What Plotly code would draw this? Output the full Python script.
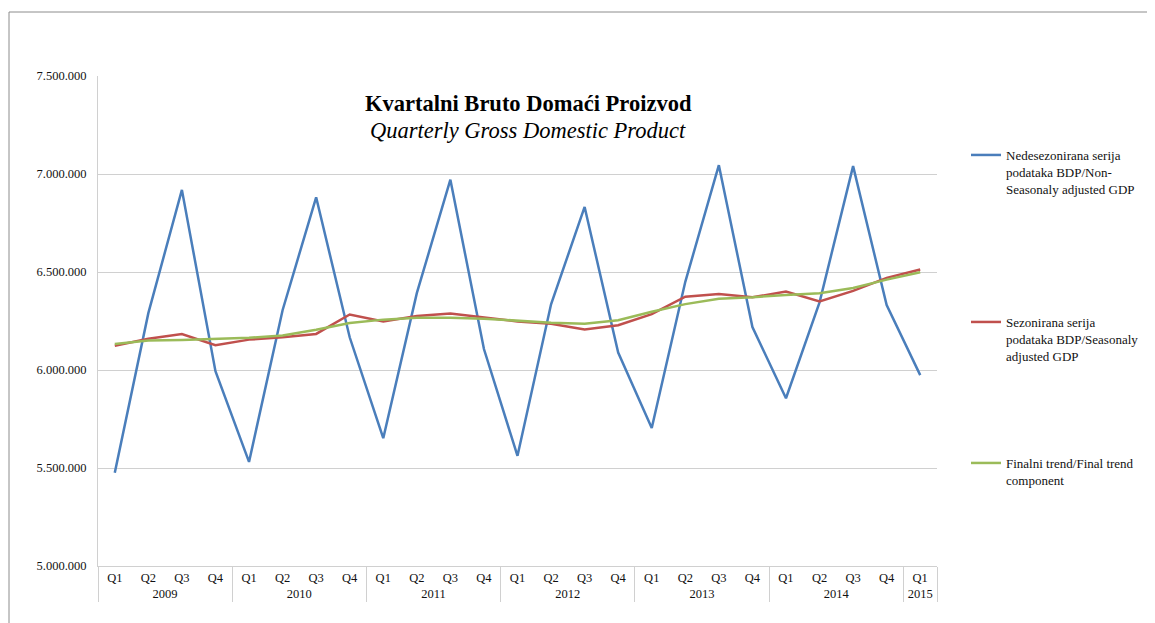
import plotly.graph_objects as go

years = ["2009"] * 4 + ["2010"] * 4 + ["2011"] * 4 + ["2012"] * 4 + ["2013"] * 4 + ["2014"] * 4 + ["2015"]
quarters = ["Q1", "Q2", "Q3", "Q4"] * 6 + ["Q1"]

non_seasonal = [5476000, 6290000, 6919000, 5994000,
                5531000, 6305000, 6881000, 6167000,
                5652000, 6392000, 6971000, 6107000,
                5562000, 6335000, 6832000, 6089000,
                5704000, 6450000, 7045000, 6219000,
                5856000, 6345000, 7040000, 6331000,
                5974000]
seasonal = [6124000, 6159000, 6184000, 6127000,
            6155000, 6167000, 6184000, 6283000,
            6248000, 6276000, 6288000, 6267000,
            6248000, 6236000, 6207000, 6228000,
            6285000, 6374000, 6388000, 6371000,
            6400000, 6350000, 6404000, 6470000,
            6513000]
trend = [6133000, 6150000, 6153000, 6157000,
         6164000, 6176000, 6205000, 6240000,
         6257000, 6266000, 6267000, 6262000,
         6250000, 6241000, 6236000, 6254000,
         6297000, 6336000, 6364000, 6371000,
         6383000, 6392000, 6418000, 6461000,
         6499000]

names = [
    "Nedesezonirana serija<br>podataka BDP/Non-<br>Seasonaly adjusted GDP",
    "Sezonirana serija<br>podataka BDP/Seasonaly<br>adjusted GDP",
    "Finalni trend/Final trend<br>component",
]
colors = ["#4A7EBB", "#C0504D", "#9BBB59"]
series = [non_seasonal, seasonal, trend]
legends = ["legend", "legend2", "legend3"]

FONT = "Liberation Serif"
OFF = 8  # page body margin
W, H = 1155 - OFF, 623 - OFF

# target positions (in reference screen pixels)
PL, PR, PT, PB = 98, 937, 76, 566


def sx(px):
    return px - OFF


def sy(py):
    return py - OFF


fig = go.Figure()
for vals, name, col, lg in zip(series, names, colors, legends):
    fig.add_trace(go.Scatter(
        x=[years, quarters], y=vals, name=name, mode="lines",
        line=dict(color=col, width=2.5), legend=lg, showlegend=True,
    ))

legend_common = dict(
    xref="container", yref="container", x=sx(966) / W, xanchor="left", yanchor="top",
    font=dict(family=FONT, size=13, color="#111"), bgcolor="rgba(0,0,0,0)",
    valign="top", itemwidth=30,
)
pw = PR - PL
ph = PB - PT
fig.update_layout(
    width=W, height=H, showlegend=True,
    margin=dict(l=sx(PL), r=W - sx(PR), t=sy(PT), b=H - sy(PB)),
    paper_bgcolor="white", plot_bgcolor="white",
    separators=",.",
    font=dict(family=FONT, size=12.5, color="#111"),
    legend=dict(**legend_common, y=1 - sy(140) / H),
    legend2=dict(**legend_common, y=1 - sy(307) / H),
    legend3=dict(**legend_common, y=1 - sy(448) / H),
    xaxis=dict(
        type="multicategory", range=[-0.5, 24.5], showgrid=False, showline=True,
        linecolor="#D0D0D0", linewidth=1, ticks="", showdividers=True,
        dividercolor="#D0D0D0", dividerwidth=1,
        tickfont=dict(family=FONT, size=12.5, color="#111"), automargin=False,
    ),
    yaxis=dict(
        range=[5000000, 7500000], dtick=500000, tick0=5000000,
        tickformat=",.0f", showgrid=True, gridcolor="#D0D0D0", gridwidth=1,
        showline=True, linecolor="#D0D0D0", linewidth=1, zeroline=False,
        ticks="", ticklabelstandoff=8,
        tickfont=dict(family=FONT, size=12.5, color="#111"), automargin=False,
    ),
    annotations=[
        dict(text="<b>Kvartalni Bruto Domaći Proizvod</b>", xref="paper", yref="paper",
             x=(528 - PL) / pw, y=(PB - 103) / ph, showarrow=False,
             font=dict(family=FONT, size=22.5, color="#000"), xanchor="center", yanchor="middle"),
        dict(text="<i>Quarterly Gross Domestic Product</i>", xref="paper", yref="paper",
             x=(528 - PL) / pw, y=(PB - 130) / ph, showarrow=False,
             font=dict(family=FONT, size=22.5, color="#000"), xanchor="center", yanchor="middle"),
    ],
    shapes=[
        dict(type="rect", xref="paper", yref="paper",
             x0=(9 - PL) / pw, x1=(1250 - PL) / pw,
             y0=(PB - 700) / ph, y1=(PB - 12) / ph,
             line=dict(color="#8C8C8C", width=1), layer="below"),
    ],
)

fig.write_html("out.html")
